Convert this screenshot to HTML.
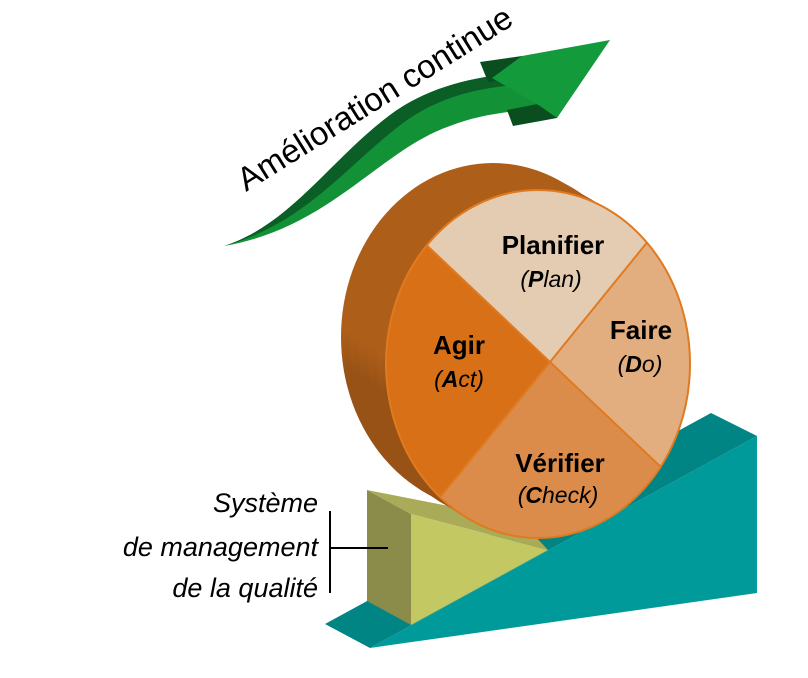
<!DOCTYPE html>
<html><head><meta charset="utf-8"><style>
html,body{margin:0;padding:0;background:#fff;width:808px;height:678px;overflow:hidden;}
svg{display:block;}
text{font-family:"Liberation Sans",sans-serif;}
</style></head><body>
<svg width="808" height="678" viewBox="0 0 808 678" xmlns="http://www.w3.org/2000/svg">
<defs>
<clipPath id="c"><ellipse cx="538" cy="364" rx="152" ry="174"/></clipPath>
<linearGradient id="sg" x1="0" y1="0" x2="0.3" y2="1">
<stop offset="0.45" stop-color="#ad5e19"/><stop offset="0.55" stop-color="#985216"/><stop offset="1" stop-color="#985216"/>
</linearGradient>
</defs>
<polygon points="325,624 711,413 757,436 370,648" fill="#008484"/>
<polygon points="370,648 757,436 757,593" fill="#009a9a"/>
<polygon points="367,490 411,514 411,625 367,601" fill="#8b8b4a"/>
<polygon points="367,490 411,514 548,550 520,520" fill="#a9ab58"/>
<polygon points="411,514 548,550 411,625" fill="#c4c862"/>
<g fill="url(#sg)">
<ellipse cx="493" cy="337" rx="152" ry="174"/>
<ellipse cx="502" cy="342" rx="152" ry="174"/>
<ellipse cx="511" cy="348" rx="152" ry="174"/>
<ellipse cx="520" cy="353" rx="152" ry="174"/>
<ellipse cx="529" cy="359" rx="152" ry="174"/>
</g>
<g clip-path="url(#c)">
<polygon points="550,362 100,-64 1000,-194" fill="#e4ccb2"/>
<polygon points="550,362 1000,-194 1000,788" fill="#e2ae80"/>
<polygon points="550,362 1000,788 100,918" fill="#dc8c4a"/>
<polygon points="550,362 100,918 100,-64" fill="#d87018"/>
<line x1="701" y1="176" x2="399" y2="548" stroke="#e07a20" stroke-width="2"/>
<line x1="381" y1="202" x2="719" y2="522" stroke="#e07a20" stroke-width="2"/>
</g>
<ellipse cx="538" cy="364" rx="152" ry="174" fill="none" stroke="#e07a20" stroke-width="2"/>
<g font-weight="bold" font-size="26" text-anchor="middle" fill="#000">
<text x="553" y="254">Planifier</text>
<text x="641" y="339">Faire</text>
<text x="459" y="354">Agir</text>
<text x="560" y="472">Vérifier</text>
</g>
<g font-style="italic" font-size="23" text-anchor="middle" fill="#000">
<text x="551" y="287">(<tspan font-weight="bold">P</tspan>lan)</text>
<text x="640" y="372">(<tspan font-weight="bold">D</tspan>o)</text>
<text x="459" y="387">(<tspan font-weight="bold">A</tspan>ct)</text>
<text x="558" y="503">(<tspan font-weight="bold">C</tspan>heck)</text>
</g>
<g font-style="italic" font-size="27" text-anchor="end" fill="#000">
<text x="318" y="512">Système</text>
<text x="318" y="556">de management</text>
<text x="318" y="597">de la qualité</text>
</g>
<path d="M330,511 V593 M330,548 H388" stroke="#000" stroke-width="2" fill="none"/>
<path d="M224,246 C330,228 380,150 450,126 C480,114 510,112 540,108 L532,72 C480,75 430,85 390,115 C330,160 290,225 224,246 Z" fill="#139136"/>
<path d="M224,246 C310,222 350,160 410,118 C450,92 490,86 532,84 L532,72 C480,75 430,85 390,115 C330,160 290,225 224,246 Z" fill="#0a5e26"/>
<polygon points="480,62 522,56 532,76 488,82" fill="#0a4d1f"/>
<polygon points="507,110 548,102 557,118 513,126" fill="#0a4d1f"/>
<polygon points="492,78 522,56 610,40 557,118 540,106" fill="#139a3a"/>
<text x="0" y="0" font-size="33" fill="#000" transform="translate(246,192) rotate(-32)">Amélioration continue</text>
</svg>
</body></html>
